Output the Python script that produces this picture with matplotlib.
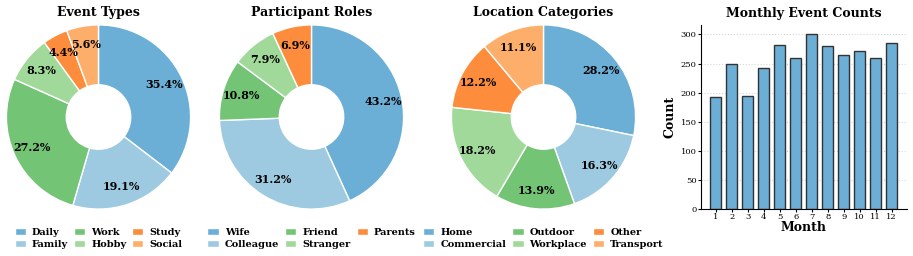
import matplotlib
matplotlib.use('Agg')
import matplotlib.pyplot as plt
import numpy as np

plt.rcParams['font.family'] = 'DejaVu Serif'

# pie data
eventLabels = ['Daily', 'Family', 'Work', 'Hobby', 'Study', 'Social']
eventValues = [35.4, 19.1, 27.2, 8.3, 4.4, 5.6]

roleLabels = ['Wife', 'Colleague', 'Friend', 'Stranger', 'Parents']
roleValues = [43.2, 31.2, 10.8, 7.9, 6.9]

locLabels = ['Home', 'Commercial', 'Outdoor', 'Workplace', 'Other', 'Transport']
locValues = [28.2, 16.3, 13.9, 18.2, 12.2, 11.1]

# bar data
months = [1, 2, 3, 4, 5, 6, 7, 8, 9, 10, 11, 12]
counts = [193, 249, 194, 243, 282, 260, 301, 280, 264, 271, 259, 285]

colors = ['#6baed6', '#9ecae1', '#74c476', '#a1d99b', '#fd8d3c', '#fdae6b']

W, H = 913, 256
fig = plt.figure(figsize=(W / 100, H / 100), dpi=100)


def donut(cx, title, labels, values):
    size = 186
    ax = fig.add_axes([(cx - size / 2) / W, (139 - size / 2) / H, size / W, size / H])
    wedges, texts, autotexts = ax.pie(values, colors=colors[:len(values)], startangle=90,
                                      counterclock=False, autopct='%1.1f%%', pctdistance=0.8,
                                      wedgeprops=dict(width=0.65, edgecolor='white', linewidth=1))
    for t in autotexts:
        t.set_fontsize(8)
        t.set_fontweight('bold')
    ax.set_xlim(-1.01, 1.01)
    ax.set_ylim(-1.01, 1.01)
    ax.set_title(title, fontsize=9, fontweight='bold', pad=6)
    ax.legend(wedges, labels, loc='upper center', bbox_to_anchor=(0.5, -0.06), ncol=3,
              frameon=False, prop={'weight': 'bold', 'size': 7}, handlelength=1.15,
              handleheight=0.7, handletextpad=0.62, columnspacing=0.62, labelspacing=0.3,
              borderpad=0.2)


donut(98.5, 'Event Types', eventLabels, eventValues)
donut(311.5, 'Participant Roles', roleLabels, roleValues)
donut(543.5, 'Location Categories', locLabels, locValues)

# monthly bars
ax = fig.add_axes([700.7 / W, 46.7 / H, 206 / W, 184.3 / H])
ax.bar(months, counts, width=0.7, color='#6baed6', edgecolor='#333333', linewidth=1)
ax.set_ylim(0, max(counts) * 1.05)
ax.set_xticks(months)
ax.tick_params(labelsize=6, length=2, pad=1)
ax.set_xlabel('Month', fontsize=9, fontweight='bold', labelpad=0)
ax.set_ylabel('Count', fontsize=9, fontweight='bold', labelpad=3)
ax.set_title('Monthly Event Counts', fontsize=9, fontweight='bold', pad=6)
ax.yaxis.grid(True, linestyle=':', alpha=0.5)
ax.set_axisbelow(True)
ax.spines['top'].set_visible(False)
ax.spines['right'].set_visible(False)

plt.savefig('out.png', dpi=100)
